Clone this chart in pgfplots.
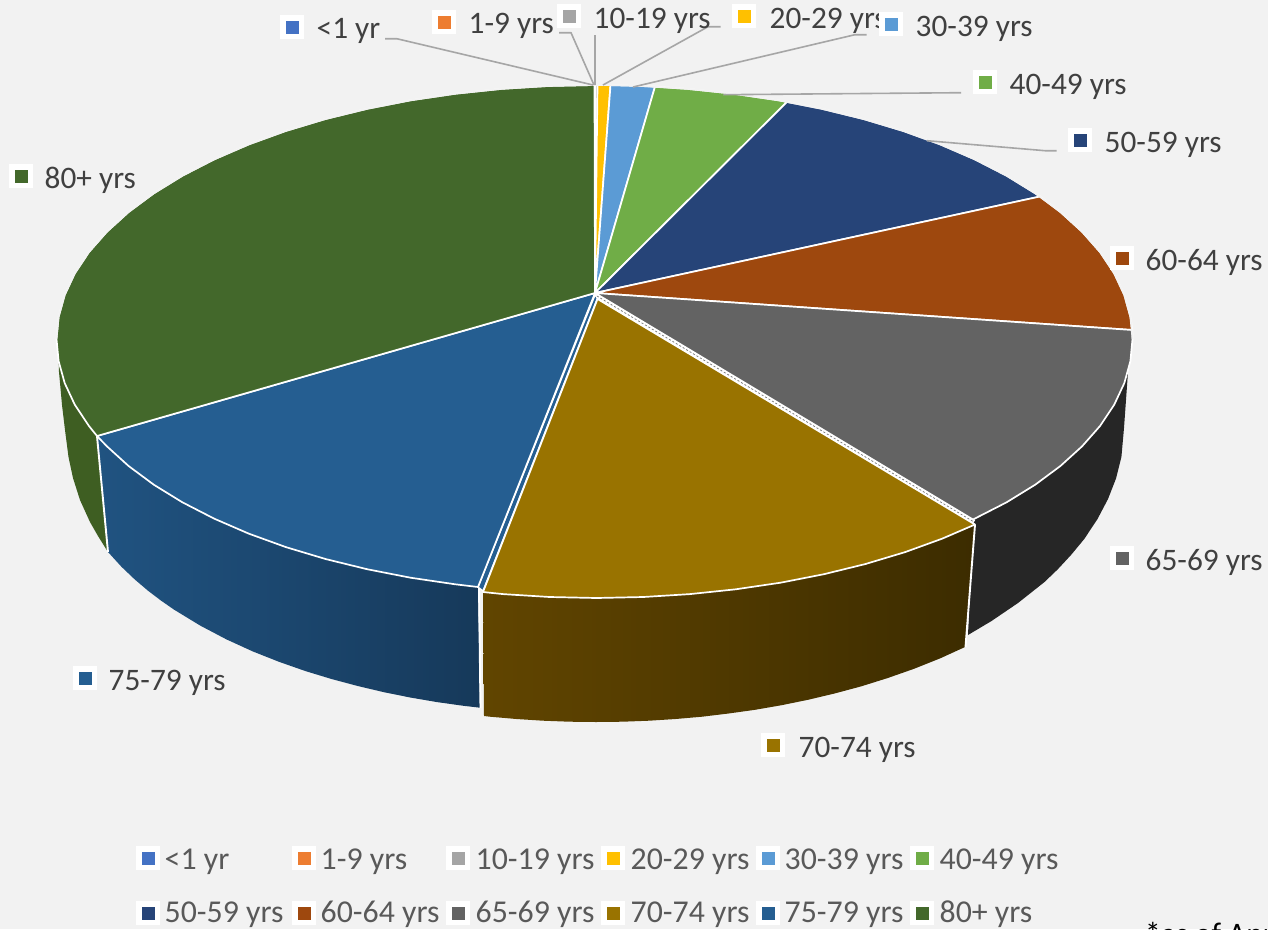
\documentclass[border=0pt]{standalone}
\usepackage{pgfplots}
\pgfplotsset{compat=1.18}
\usepackage{fontspec}
\setmainfont{Carlito}
\definecolor{bg}{HTML}{F2F2F2}
\definecolor{cA}{HTML}{4472C4}
\definecolor{cB}{HTML}{ED7D31}
\definecolor{cC}{HTML}{A5A5A5}
\definecolor{cD}{HTML}{FFC000}
\definecolor{cE}{HTML}{5B9BD5}
\definecolor{cF}{HTML}{70AD47}
\definecolor{cG}{HTML}{264478}
\definecolor{cH}{HTML}{9E480E}
\definecolor{cI}{HTML}{636363}
\definecolor{cJ}{HTML}{997300}
\definecolor{cK}{HTML}{255E91}
\definecolor{cL}{HTML}{43682B}
\definecolor{lead}{HTML}{A6A6A6}
\definecolor{lab}{HTML}{404040}
\definecolor{leg}{HTML}{595959}
\newcommand{\mk}[3]{%
  \addplot[only marks,mark=square*,mark size=11.5pt,mark options={fill=white,draw=white,line width=0.5pt,rounded corners=2pt}] coordinates {(#1,#2)};
  \addplot[only marks,mark=square*,mark size=5.8pt,mark options={fill=#3,draw=#3,line width=0.4pt}] coordinates {(#1,#2)};}
\newcommand{\lb}[3]{\node[anchor=base west,inner sep=0pt,text=lab,font=\fontsize{31.3}{31.3}\selectfont] at (axis cs:#1,#2) {#3};}
\newcommand{\lgd}[3]{\node[anchor=base west,inner sep=0pt,text=leg,font=\fontsize{31.8}{31.8}\selectfont] at (axis cs:#1,#2) {#3};}
\begin{document}
\begin{tikzpicture}
\clip (0,0) rectangle (1268pt,929pt);
\begin{axis}[
  at={(0,0)},anchor=south west,
  width=1268pt,height=929pt,scale only axis,
  xmin=0,xmax=1268,ymin=0,ymax=929,y dir=reverse,
  axis line style={draw=none},ticks=none,clip=false,
  slice/.style={draw=white,line width=1.7pt,line join=round},
  side/.style={draw=none},
  edge/.style={draw=white,line width=1.9pt},
  leader/.style={draw=lead,line width=1.6pt,line join=round},
]
% background
\addplot[fill=bg,draw=none] coordinates {(0,0)(1268,0)(1268,929)(0,929)} -- cycle;

% side walls
\addplot[side,fill=black!85!white] coordinates {(973,519.5)(1006.6,502.3)(1035.2,484.7)(1060.4,466)(1082.1,446.3)(1100.1,425.9)(1114.2,404.7)(1124.3,383.1)(1128,372)(1124,428)(1121.4,457)(1116,478.5)(1108,499)(1097.5,519)(1084.25,539)(1071,555)(1057.75,569.3)(1044.5,582)(1018,603)(991.5,621)(968,635)} -- cycle;
\addplot[side,fill={rgb,255:red,62;green,94;blue,34}] coordinates {(97,436)(88.9,425.9)(74.8,404.7)(64.7,383.1)(58.6,361.1)(59,372)(62,405)(65,430)(68.5,457)(73,478)(80,500)(90,522)(98,536)(108,552)} -- cycle;
\addplot[side,shade,left color={rgb,255:red,32;green,83;blue,129},right color={rgb,255:red,22;green,57;blue,90}] coordinates {(97,436)(106.9,446.3)(128.6,466)(153.8,484.7)(182.4,502.3)(214.1,518.6)(248.7,533.6)(285.9,547.1)(325.5,559)(367.1,569.2)(410.5,577.7)(455.3,584.3)(478,587)(480,707.7)(462.75,705.7)(436.5,702)(410.25,697.5)(384,692.2)(357.75,686)(331.5,679)(305.25,671)(279,661.8)(252.75,651.4)(226.5,639.4)(200.25,625.6)(174,609.6)(160.9,600.5)(147.75,590.5)(134.6,579.3)(121.5,566.8)(108,552)} -- cycle;
\addplot[side,shade,left color={rgb,255:red,97;green,69;blue,0},right color={rgb,255:red,60;green,44;blue,0}] coordinates {(483,592)(503.1,594.1)(549.6,597)(596.5,598)(643.4,597)(689.9,594.1)(735.7,589.3)(780.5,582.7)(823.9,574.2)(865.5,564)(905.1,552.1)(942.3,538.6)(975,524.5)(965,647)(940.5,658.2)(914,668.8)(887.5,678.1)(861,686.4)(834.5,693.5)(808,699.8)(781.5,705.2)(755,709.8)(728.5,713.5)(702,716.7)(675.5,719)(649,720.7)(622.5,721.7)(596,722)(569.5,721.7)(543,720.7)(516.5,719)(490,716.7)(484,716)} -- cycle;
% vertical edges
\addplot[edge] coordinates {(97,436)(108,552)};
\addplot[edge] coordinates {(479,587)(480.5,708)};
\addplot[edge] coordinates {(975,524.5)(965.5,647)};

% inner strips of the pulled-out slice
\addplot[draw=white,line width=1.4pt,fill=cK] coordinates {(595,295)(597.5,298)(483,591)(478,587)} -- cycle;
\addplot[draw=white,line width=4.5pt] coordinates {(597,296)(974,522)};
\addplot[draw=gray,line width=0.9pt,dash pattern=on 2pt off 2pt] coordinates {(597,296)(974,522)};

% top faces
\addplot[slice,fill=cA] coordinates {(595,293)(594.5,85)(594.7,85)} -- cycle;
\addplot[slice,fill=cB] coordinates {(595,293)(594.7,85)(595,85)} -- cycle;
\addplot[slice,fill=cC] coordinates {(595,293)(595,85)(597.5,85)} -- cycle;
\addplot[slice,fill=cD] coordinates {(595,293)(597.5,85)(610.5,85.1)} -- cycle;
\addplot[slice,fill=cE] coordinates {(595,293)(610.5,85.1)(641.4,86)(655,86.6)} -- cycle;
\addplot[slice,fill=cF] coordinates {(595,293)(655,86.6)(687.9,88.9)(733.7,93.7)(778.5,100.3)(787,101.9)} -- cycle;
\addplot[slice,fill=cG] coordinates {(595,293)(787,101.9)(821.9,108.8)(863.5,119)(903.1,130.9)(940.3,144.4)(974.9,159.4)(1006.6,175.7)(1035.2,193.3)(1040,196.5)} -- cycle;
\addplot[slice,fill=cH] coordinates {(595,293)(1040,196.5)(1060.4,212)(1082.1,231.7)(1100.1,252.1)(1114.2,273.3)(1124.3,294.9)(1130.4,316.9)(1132.3,330)} -- cycle;
\addplot[slice,fill=cI] coordinates {(595,293)(1132.3,330)(1132.5,339)(1130.4,361.1)(1124.3,383.1)(1114.2,404.7)(1100.1,425.9)(1082.1,446.3)(1060.4,466)(1035.2,484.7)(1006.6,502.3)(973,519.5)} -- cycle;
\addplot[slice,fill=cJ] coordinates {(597.5,299)(975,524.5)(942.3,538.6)(905.1,552.1)(865.5,564)(823.9,574.2)(780.5,582.7)(735.7,589.3)(689.9,594.1)(643.4,597)(596.5,598)(549.6,597)(503.1,594.1)(483,592)} -- cycle;
\addplot[slice,fill=cK] coordinates {(595,293)(478,587)(455.3,584.3)(410.5,577.7)(367.1,569.2)(325.5,559)(285.9,547.1)(248.7,533.6)(214.1,518.6)(182.4,502.3)(153.8,484.7)(128.6,466)(106.9,446.3)(97,436)} -- cycle;
\addplot[slice,fill=cL] coordinates {(595,293)(97,436)(88.9,425.9)(74.8,404.7)(64.7,383.1)(58.6,361.1)(56.5,339)(58.6,316.9)(64.7,294.9)(74.8,273.3)(88.9,252.1)(106.9,231.7)(128.6,212)(153.8,193.3)(182.4,175.7)(214.1,159.4)(248.7,144.4)(285.9,130.9)(325.5,119)(367.1,108.8)(410.5,100.3)(455.3,93.7)(501.1,88.9)(547.6,86)(594.5,85)} -- cycle;
% the back rim shows no white against the background
\addplot[draw=bg,line width=1.7pt,line join=round] coordinates {(56.5,339)(58.6,316.9)(64.7,294.9)(74.8,273.3)(88.9,252.1)(106.9,231.7)(128.6,212)(153.8,193.3)(182.4,175.7)(214.1,159.4)(248.7,144.4)(285.9,130.9)(325.5,119)(367.1,108.8)(410.5,100.3)(455.3,93.7)(501.1,88.9)(547.6,86)(594.5,85)(597.5,85)(610.5,85.1)(641.4,86)(687.9,88.9)(733.7,93.7)(778.5,100.3)(821.9,108.8)(863.5,119)(903.1,130.9)(940.3,144.4)(974.9,159.4)(1006.6,175.7)(1035.2,193.3)(1060.4,212)(1082.1,231.7)(1100.1,252.1)(1114.2,273.3)(1124.3,294.9)(1130.4,316.9)(1132.5,339)};

% leader lines
\addplot[leader] coordinates {(385,38.7)(396.7,38.7)(593,85)};
\addplot[leader] coordinates {(559,32.7)(571,32.7)(594,85)};
\addplot[leader] coordinates {(595,35)(595,85)};
\addplot[leader] coordinates {(720.7,26.7)(708,26.7)(603,85)};
\addplot[leader] coordinates {(866.7,34.7)(855,34.7)(633,87)};
\addplot[leader] coordinates {(961,92.7)(723.3,94.7)};
\addplot[leader] coordinates {(1056.7,150.7)(1045,150.7)(927,140.7)};

% data labels
\lb{316.5}{38}{<1 yr}
\mk{292}{27}{cA}
\lb{468.5}{33}{1-9 yrs}
\mk{444}{22}{cB}
\lb{593.5}{28}{10-19 yrs}
\mk{569}{16}{cC}
\lb{769.5}{28}{20-29 yrs}
\mk{744}{16}{cD}
\lb{915.5}{36}{30-39 yrs}
\mk{891}{24}{cE}
\lb{1009.5}{94}{40-49 yrs}
\mk{985}{82}{cF}
\lb{1104.5}{152}{50-59 yrs}
\mk{1080}{140}{cG}
\lb{1145.5}{270}{60-64 yrs}
\mk{1122}{258}{cH}
\lb{1145.5}{570}{65-69 yrs}
\mk{1122}{558}{cI}
\lb{798.5}{757}{70-74 yrs}
\mk{773}{745}{cJ}
\lb{108.5}{690}{75-79 yrs}
\mk{85}{678}{cK}
\lb{44.5}{188}{80+ yrs}
\mk{21}{176}{cL}

% legend
\mk{148}{858}{cA}\lgd{164.5}{869}{<1 yr}
\mk{304}{858}{cB}\lgd{320.5}{869}{1-9 yrs}
\mk{458}{858}{cC}\lgd{475.5}{869}{10-19 yrs}
\mk{613}{858}{cD}\lgd{630.5}{869}{20-29 yrs}
\mk{768}{858}{cE}\lgd{784.5}{869}{30-39 yrs}
\mk{922}{858}{cF}\lgd{939.5}{869}{40-49 yrs}
\mk{148}{913}{cG}\lgd{164.5}{922.5}{50-59 yrs}
\mk{304}{913}{cH}\lgd{320.5}{922.5}{60-64 yrs}
\mk{458}{913}{cI}\lgd{475.5}{922.5}{65-69 yrs}
\mk{613}{913}{cJ}\lgd{630.5}{922.5}{70-74 yrs}
\mk{768}{913}{cK}\lgd{784.5}{922.5}{75-79 yrs}
\mk{922}{913}{cL}\lgd{939.5}{922.5}{80+ yrs}

\node[anchor=base west,inner sep=0pt,text=black,font=\fontsize{31.3}{31.3}\selectfont] at (axis cs:1145,944) {*as of Apr};
\end{axis}
\end{tikzpicture}
\end{document}
